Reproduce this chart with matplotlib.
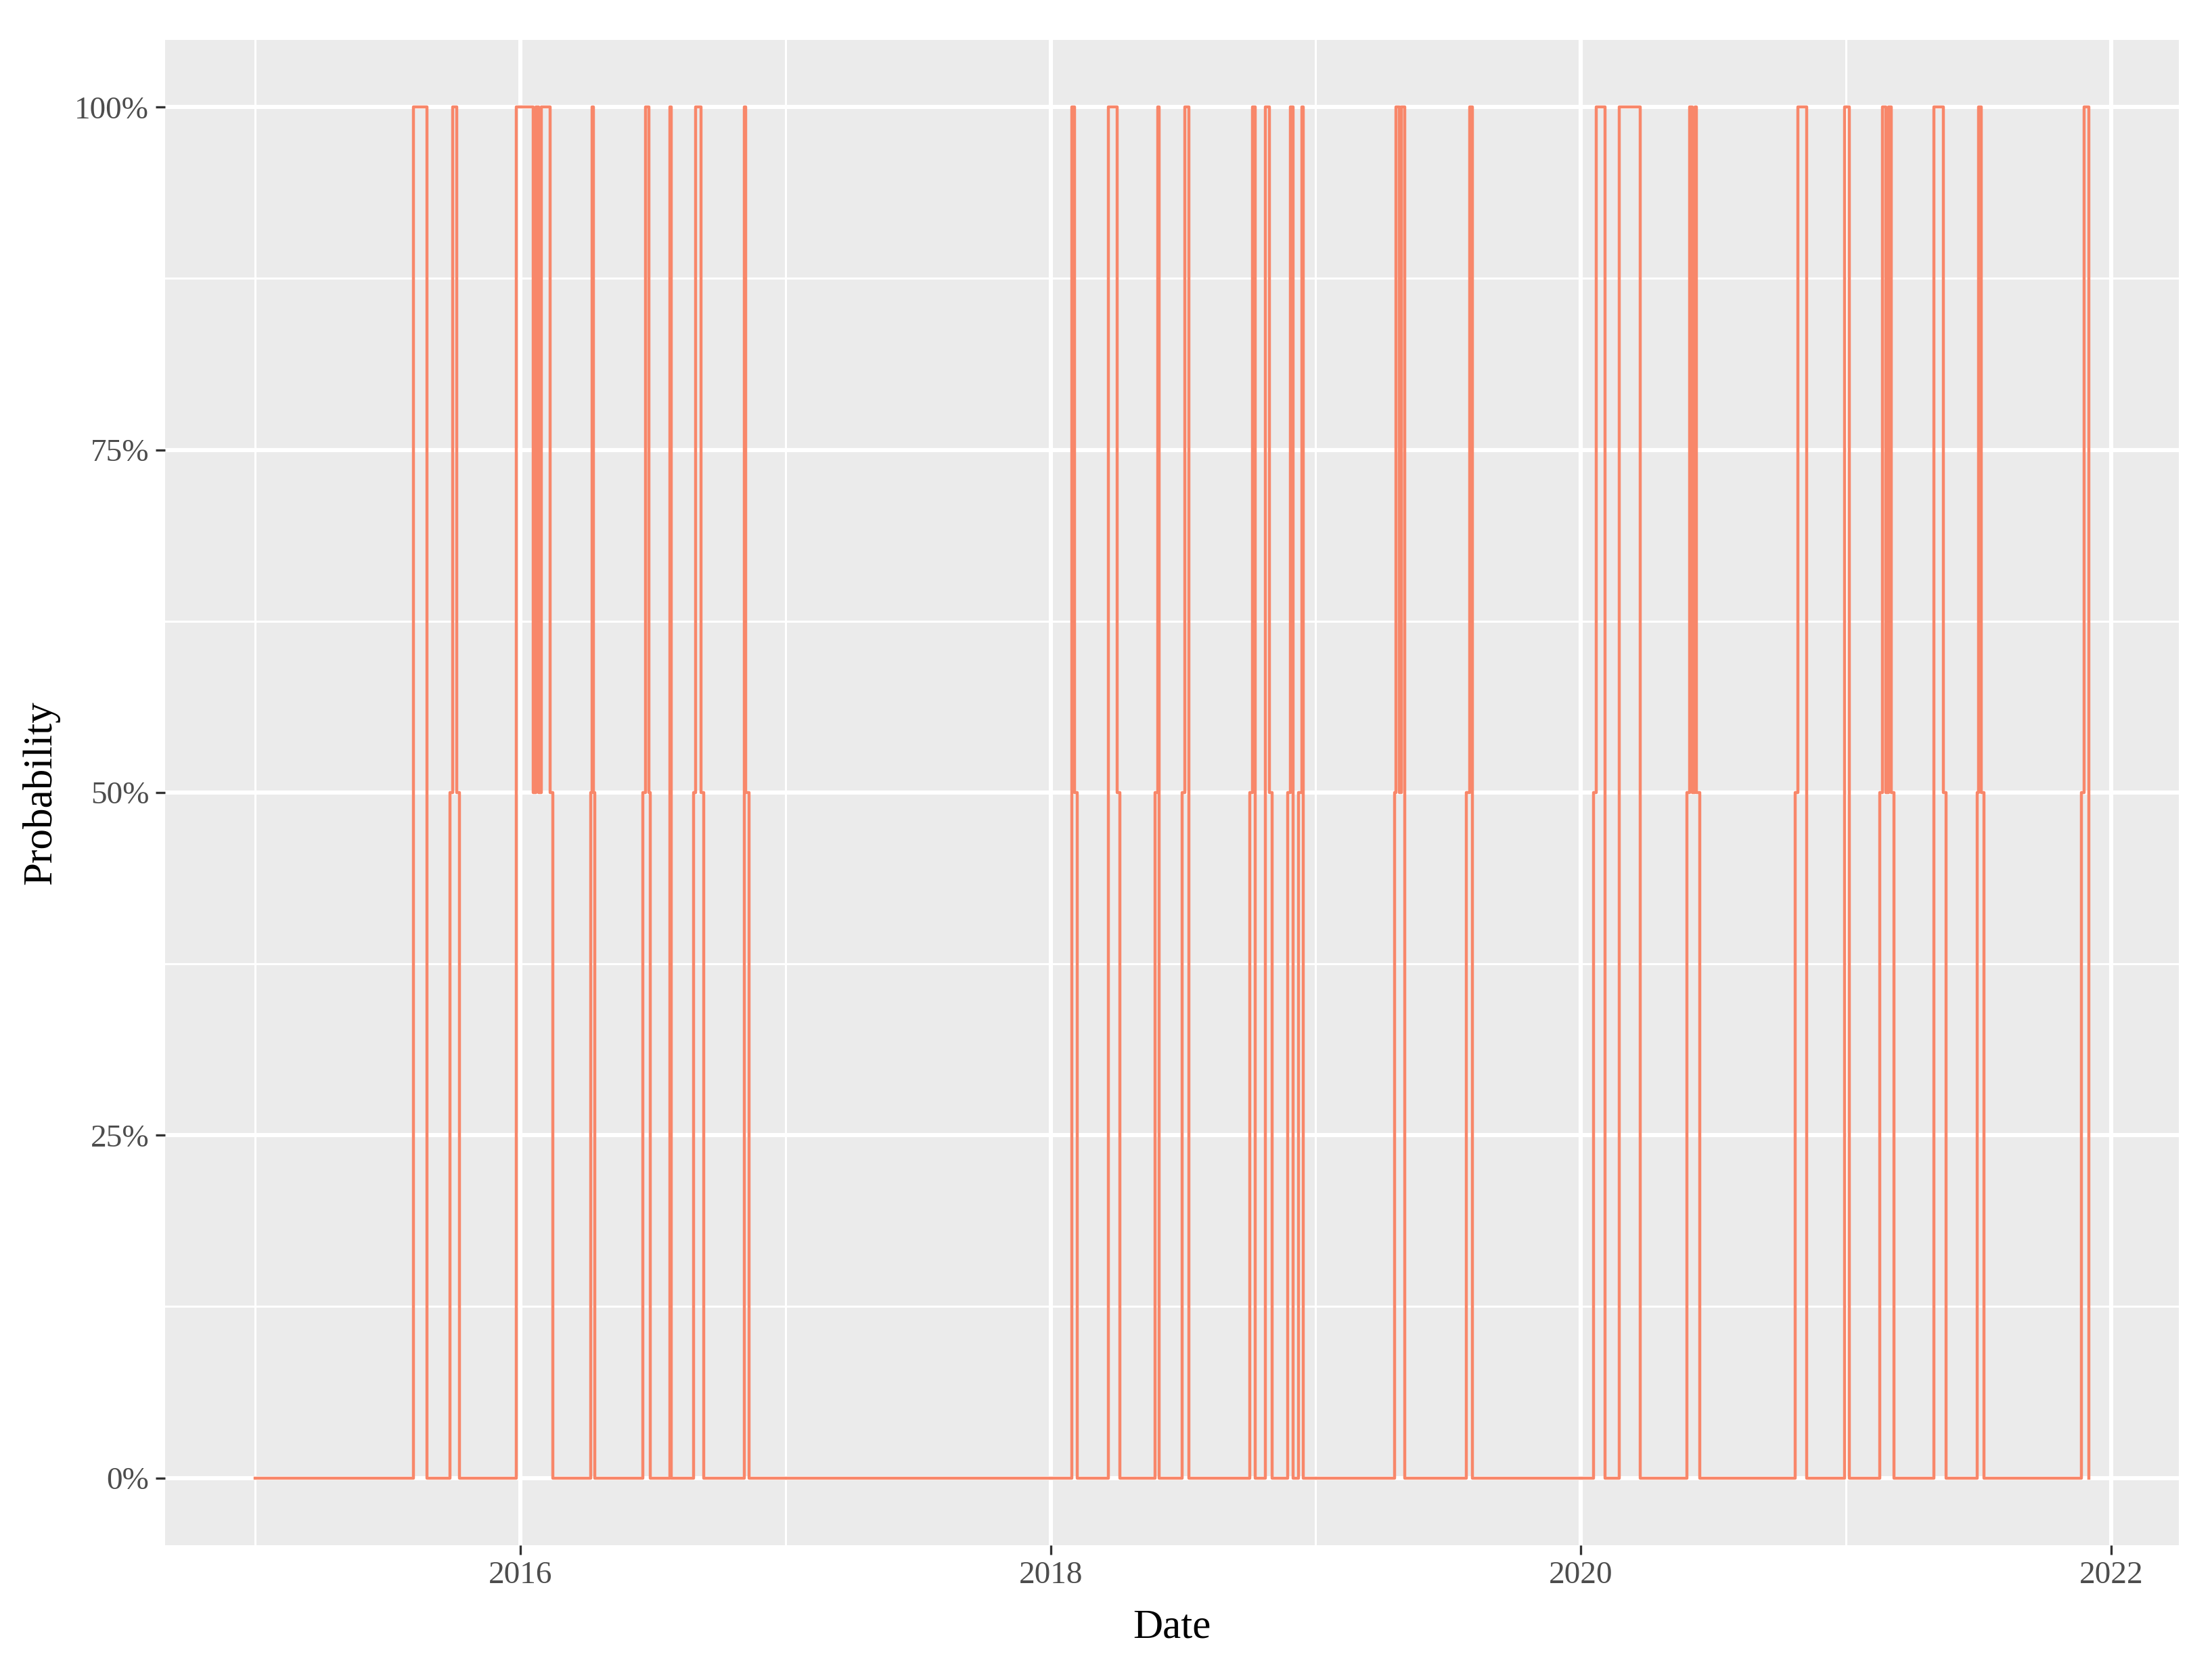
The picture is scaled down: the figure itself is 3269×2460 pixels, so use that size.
import matplotlib
matplotlib.use("Agg")
import matplotlib.pyplot as plt
from matplotlib.ticker import FixedLocator, PercentFormatter

# change points (decimal year, probability)
years = [2015.000, 2015.596, 2015.649, 2015.734, 2015.745, 2015.761, 2015.771, 2015.984,
         2016.048, 2016.059, 2016.069, 2016.080, 2016.112, 2016.122, 2016.266, 2016.271,
         2016.277, 2016.282, 2016.463, 2016.473, 2016.484, 2016.489, 2016.564, 2016.569,
         2016.654, 2016.660, 2016.681, 2016.691, 2016.846, 2016.851, 2016.862,
         2018.080, 2018.090, 2018.101, 2018.218, 2018.250, 2018.261, 2018.394, 2018.404,
         2018.410, 2018.495, 2018.505, 2018.521, 2018.750, 2018.761, 2018.771, 2018.809,
         2018.824, 2018.835, 2018.894, 2018.904, 2018.915, 2018.936, 2018.947, 2018.952,
         2019.298, 2019.303, 2019.314, 2019.324, 2019.335, 2019.569, 2019.580, 2019.590,
         2020.048, 2020.059, 2020.090, 2020.144, 2020.223, 2020.399, 2020.410, 2020.420,
         2020.431, 2020.436, 2020.447, 2020.809, 2020.819, 2020.851, 2020.995, 2021.011,
         2021.128, 2021.138, 2021.149, 2021.160, 2021.170, 2021.181, 2021.330, 2021.367,
         2021.378, 2021.495, 2021.500, 2021.511, 2021.521, 2021.888, 2021.899, 2021.915]
probs = [0, 1, 0, 0.5, 1, 0.5, 0, 1,
         0.5, 1, 0.5, 1, 0.5, 0, 0.5, 1,
         0.5, 0, 0.5, 1, 0.5, 0, 1, 0,
         0.5, 1, 0.5, 0, 1, 0.5, 0,
         1, 0.5, 0, 1, 0.5, 0, 0.5, 1,
         0, 0.5, 1, 0, 0.5, 1, 0, 1,
         0.5, 0, 0.5, 1, 0, 0.5, 1, 0,
         0.5, 1, 0.5, 1, 0, 0.5, 1, 0,
         0.5, 1, 0, 1, 0, 0.5, 1, 0.5,
         1, 0.5, 0, 0.5, 1, 0, 1, 0,
         0.5, 1, 0.5, 1, 0.5, 0, 1, 0.5,
         0, 0.5, 1, 0.5, 0, 0.5, 1, 0]
xticks = [2016, 2018, 2020, 2022]
xminor = [2015, 2017, 2019, 2021]
yticks = [0, 0.25, 0.5, 0.75, 1.0]
yminor = [0.125, 0.375, 0.625, 0.875]

plt.rcParams['font.family'] = ['Liberation Serif', 'DejaVu Serif']
fig = plt.figure(figsize=(16.345, 12.3), dpi=200)
ax = fig.add_axes([0.0746, 0.072, 0.9104, 0.904])
ax.set_facecolor('#EBEBEB')
ax.step(years, probs, where='post', color='#F8876A', lw=1.6, zorder=3)
ax.set_xlim(2014.66, 2022.255)
ax.set_ylim(-0.049, 1.049)
ax.xaxis.set_major_locator(FixedLocator(xticks))
ax.xaxis.set_minor_locator(FixedLocator(xminor))
ax.yaxis.set_major_locator(FixedLocator(yticks))
ax.yaxis.set_minor_locator(FixedLocator(yminor))
ax.yaxis.set_major_formatter(PercentFormatter(1.0, decimals=0))
ax.grid(which='major', color='white', lw=2.2, zorder=1)
ax.grid(which='minor', color='white', lw=1.1, zorder=1)
for s in ax.spines.values():
    s.set_visible(False)
ax.tick_params(which='major', length=5, width=1.2, color='#333333', labelsize=17, labelcolor='#4D4D4D')
ax.tick_params(which='minor', length=0)
ax.set_xlabel('Date', fontsize=22, labelpad=10)
ax.set_ylabel('Probability', fontsize=22, labelpad=8)
fig.savefig('out.png', dpi=200)
